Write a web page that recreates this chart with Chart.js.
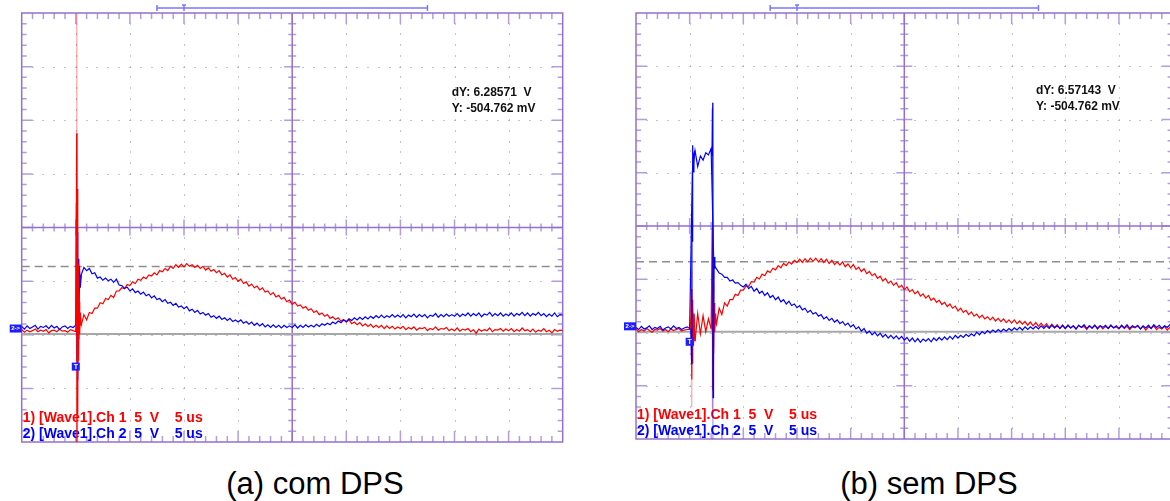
<!DOCTYPE html>
<html>
<head>
<meta charset="utf-8">
<script src="https://cdn.jsdelivr.net/npm/chart.js@4.4.1/dist/chart.umd.min.js"></script>
<style>
  html, body { margin: 0; padding: 0; background: #fff; width: 1170px; height: 501px; overflow: hidden; position: relative; }
  canvas { position: absolute; top: 0; }
  #scopeA { left: 0; }
  #scopeB { left: 600px; }
  .caption { position: absolute; top: 466px; width: 400px; text-align: center; line-height: 36px;
             font-family: "Liberation Sans", Arial, sans-serif; font-size: 31px; color: #000; }
</style>
</head>
<body>
<canvas id="scopeA" width="585" height="450"></canvas>
<canvas id="scopeB" width="600" height="450"></canvas>
<div class="caption" style="left:115px">(a) com DPS</div>
<div class="caption" style="left:729px">(b) sem DPS</div>

<script>
// ======================
// Tela do osciloscópio: 5 V/div, 5 us/div (10 x 8 divisões)
// ======================
const timeMin = -5, timeMax = 45;          // us
const voltMin = -10.58, voltMax = 29.42;   // V (terra a ~2.1 div da base)
const timeStart = -5, timeStep = 0.25;     // amostras das curvas principais

// (a) com DPS — Ch1 (vermelho) e Ch2 (azul), em V
const ch1A = [
  -0.1,-0.35,-0.15,-0.3,-0.2,-0.05,-0.3,-0.15,-0.25,-0.1,-0.4,-0.2,-0.15,-0.3,-0.05,-0.25,-0.2,-0.35,-0.1,-0.2,
  -0.3,1.6,0.3,1.3,0.8,1.5,1.4,1.9,1.9,2.4,2.3,2.8,2.7,3.1,2.9,3.5,3.5,3.8,3.7,4.1,
  4.0,4.35,4.2,4.6,4.5,4.8,4.65,5.0,4.9,5.2,5.0,5.4,5.3,5.6,5.4,5.8,5.6,5.95,5.7,6.0,
  5.75,6.05,5.8,5.95,5.7,5.9,5.6,5.8,5.45,5.65,5.35,5.5,5.2,5.4,5.0,5.15,4.8,5.0,4.6,4.75,
  4.4,4.6,4.2,4.35,3.95,4.15,3.8,3.95,3.6,3.8,3.4,3.5,3.15,3.35,2.95,3.1,2.75,2.9,2.5,2.65,
  2.25,2.45,2.1,2.2,1.9,2.05,1.7,1.85,1.5,1.65,1.3,1.45,1.15,1.3,0.95,1.1,0.85,1.0,0.7,0.85,
  0.6,0.8,0.45,0.6,0.35,0.55,0.25,0.45,0.2,0.4,0.1,0.3,0.1,0.3,0.0,0.25,0.0,0.2,-0.05,0.15,
  0.0,0.2,-0.1,0.1,-0.05,0.15,-0.15,0.05,0.0,0.1,-0.2,0.0,-0.1,0.15,-0.15,0.0,-0.05,0.1,-0.2,-0.05,
  -0.2,0.05,-0.25,-0.05,-0.15,0.0,-0.3,-0.1,-0.45,-0.05,-0.25,-0.1,-0.2,0.05,-0.3,-0.1,-0.15,0.0,-0.25,-0.05,
  -0.2,0.0,-0.3,-0.1,-0.25,0.05,-0.2,-0.1,-0.3,-0.05,-0.35,-0.15,-0.25,0.0,-0.3,-0.15,-0.4,-0.1,-0.25,-0.15,
  -0.2
];
const ch2A = [
  0.2,-0.05,0.25,0.0,0.15,0.3,-0.05,0.2,0.1,0.25,0.0,0.3,0.05,0.2,-0.1,0.15,0.25,0.0,0.2,0.1,
  0.3,3.5,5.0,5.7,5.4,5.6,5.1,5.2,4.7,4.8,4.5,4.7,4.45,4.6,4.3,4.6,4.05,4.0,3.75,3.85,
  3.5,3.7,3.35,3.5,3.2,3.4,3.05,3.2,2.85,3.05,2.7,2.8,2.5,2.7,2.35,2.45,2.15,2.35,2.0,2.1,
  1.85,2.05,1.65,1.8,1.5,1.7,1.35,1.5,1.25,1.4,1.05,1.2,0.95,1.15,0.85,1.0,0.75,0.95,0.65,0.8,
  0.6,0.8,0.5,0.65,0.4,0.6,0.3,0.5,0.25,0.45,0.15,0.35,0.1,0.35,0.1,0.3,0.05,0.3,0.1,0.25,
  0.1,0.35,0.05,0.3,0.1,0.35,0.15,0.3,0.15,0.4,0.2,0.45,0.3,0.5,0.35,0.6,0.45,0.7,0.55,0.8,
  0.65,0.9,0.75,1.0,0.8,1.05,0.85,1.1,0.9,1.15,0.95,1.2,1.0,1.25,1.0,1.2,1.05,1.3,1.05,1.25,
  1.05,1.3,1.0,1.25,1.1,1.35,1.05,1.3,1.1,1.3,1.0,1.25,1.15,1.4,1.05,1.3,1.1,1.35,1.15,1.3,
  1.15,1.4,1.1,1.35,1.2,1.45,1.15,1.4,1.2,1.45,1.1,1.35,1.25,1.5,1.15,1.4,1.2,1.45,1.15,1.35,
  1.2,1.45,1.15,1.4,1.25,1.5,1.2,1.45,1.15,1.4,1.25,1.5,1.2,1.4,1.1,1.35,1.15,1.45,1.1,1.3,
  1.25
];
// picos no disparo: [tempo us, tensão V]
const ch1SpikeA = [[0.0,-0.3],[0.08,18.2],[0.11,-10.6],[0.14,13],[0.18,-8],[0.22,6],[0.26,-3],[0.3,2.5],[0.36,-0.5],[0.42,1.5],[0.5,0.3]];
const ch1GlowA = [[0.09,-10.6],[0.09,29.4]];
const ch2SpikeA = [[0.0,0.3],[0.06,11.7],[0.1,-3],[0.14,9],[0.18,-4.8],[0.23,6.5],[0.28,-1],[0.34,5.8],[0.42,3.8],[0.5,5.0]];

// (b) sem DPS
const ch1B = [
  -0.25,-0.5,-0.3,-0.45,-0.2,-0.4,-0.55,-0.3,-0.35,-0.2,-0.45,-0.3,-0.5,-0.25,-0.4,-0.3,-0.2,-0.45,-0.35,-0.3,
  -0.3,1.5,-1.4,1.2,-0.7,1.0,-0.5,0.7,-0.2,1.5,0.2,1.7,1.1,2.2,1.9,2.5,2.5,3.0,2.9,3.4,
  3.4,3.8,3.75,4.2,4.15,4.6,4.45,4.9,4.75,5.2,5.05,5.45,5.3,5.7,5.5,5.9,5.7,6.05,5.85,6.2,
  6.0,6.3,6.0,6.35,6.05,6.4,6.1,6.4,6.05,6.35,6.0,6.3,5.9,6.2,5.8,6.05,5.75,6.05,5.6,5.85,
  5.5,5.8,5.35,5.55,5.15,5.4,4.95,5.15,4.75,4.95,4.5,4.7,4.25,4.5,4.05,4.25,3.85,4.1,3.65,3.85,
  3.45,3.7,3.25,3.45,3.05,3.3,2.85,3.05,2.65,2.9,2.45,2.65,2.25,2.45,2.05,2.25,1.85,2.1,1.7,1.9,
  1.45,1.7,1.3,1.5,1.1,1.35,0.95,1.15,0.8,1.05,0.7,0.9,0.6,0.85,0.5,0.75,0.45,0.7,0.35,0.6,
  0.3,0.6,0.25,0.5,0.2,0.45,0.1,0.4,0.05,0.35,0.0,0.3,-0.05,0.25,-0.1,0.2,-0.1,0.15,-0.2,0.1,
  -0.2,0.1,-0.15,0.05,-0.25,0.1,-0.1,0.0,-0.3,0.05,-0.2,0.1,-0.15,0.05,-0.25,0.0,-0.2,0.1,-0.15,-0.05,
  -0.25,0.05,-0.2,0.0,-0.3,-0.05,-0.15,0.05,-0.25,0.0,-0.35,-0.05,-0.2,0.05,-0.3,-0.1,-0.25,0.0,-0.35,-0.1,
  -0.2
];
const ch2B = [
  -0.1,-0.3,0.0,-0.25,-0.15,0.05,-0.3,-0.1,-0.2,0.0,-0.35,-0.15,-0.05,-0.25,0.05,-0.2,-0.1,-0.3,-0.15,-0.05,
  -0.2,14.5,16.5,15.0,16.0,15.6,16.3,16.1,16.7,5.8,5.4,5.0,4.9,4.6,4.6,4.25,4.35,4.05,4.1,3.85,
  3.7,3.95,3.55,3.75,3.3,3.55,3.1,3.3,2.9,3.15,2.7,2.9,2.5,2.75,2.3,2.5,2.1,2.35,1.95,2.1,
  1.75,1.95,1.55,1.7,1.3,1.5,1.15,1.3,0.95,1.1,0.7,0.9,0.55,0.75,0.4,0.6,0.25,0.45,0.1,0.3,
  -0.05,0.15,-0.25,-0.05,-0.45,-0.2,-0.65,-0.45,-0.8,-0.55,-0.9,-0.65,-1.0,-0.75,-1.1,-0.85,-1.15,-0.9,-1.2,-0.95,
  -1.3,-1.05,-1.4,-1.1,-1.45,-1.15,-1.5,-1.2,-1.4,-1.15,-1.45,-1.1,-1.35,-1.05,-1.3,-1.0,-1.25,-0.95,-1.2,-0.85,
  -1.1,-0.85,-1.05,-0.75,-0.95,-0.7,-0.9,-0.55,-0.8,-0.5,-0.7,-0.4,-0.6,-0.35,-0.55,-0.3,-0.5,-0.25,-0.45,-0.2,
  -0.4,-0.15,-0.35,-0.1,-0.35,-0.05,-0.3,-0.05,-0.25,0.0,-0.25,0.05,-0.2,0.05,-0.2,0.1,-0.15,0.05,-0.2,0.1,
  -0.2,0.1,-0.15,0.05,-0.25,0.1,-0.1,0.15,-0.2,0.05,-0.15,0.1,-0.25,0.05,-0.1,0.1,-0.2,0.1,-0.15,0.05,
  -0.2,0.1,-0.15,0.15,-0.2,0.05,-0.1,0.1,-0.25,0.05,-0.15,0.1,-0.2,0.15,-0.1,0.1,-0.2,0.05,-0.1,0.15,
  0.0
];
const ch1SpikeB = [[0.1,-0.3],[0.17,3.5],[0.2,-5],[0.23,2.5],[0.27,-3.5],[0.31,1.8],[0.36,-1.8],[0.42,1.2],[0.5,-1.4],[0.6,null],
                   [2.0,-0.2],[2.1,9.2],[2.15,-6],[2.19,4],[2.23,-2.5],[2.28,2.2],[2.34,-0.5],[2.42,1.2],[2.5,0.2]];
const ch1GlowB = [[0.19,5.2],[0.19,-7.6],[0.3,null],[2.13,9.4],[2.13,-7.8]];
const ch2SpikeB = [[0.1,-0.2],[0.18,-3.5],[0.21,10],[0.24,8],[0.28,17.0],[0.33,14.5],[0.4,16.2],[0.5,16.5],[0.6,null],
                   [2.0,16.7],[2.08,16.0],[2.12,20.4],[2.15,21.0],[2.18,-6.7],[2.21,3],[2.24,-4],[2.28,6.5],[2.35,5.4]];
const ch2GlowB = [[2.16,21.0],[2.16,-10.6]];

// textos da tela
const legendLines = ["1) [Wave1].Ch 1  5  V    5 us", "2) [Wave1].Ch 2  5  V    5 us"];
const cursorLevel = -0.504762;
const cursorDeltaA = 6.28571, cursorDeltaB = 6.57143;

// ======================
// Plugin: retícula, cursores e marcadores
// ======================
const scopeScreen = {
  id: 'scopeScreen',
  beforeDatasetsDraw(chart, args, o) {
    const { ctx, chartArea: a, scales: { y } } = chart;
    const dx = (a.right - a.left) / 10;
    const dy = (a.bottom - a.top) / 8;
    const cx = a.left + 5 * dx;
    const cy = a.top + 4 * dy;
    ctx.save();

    // grade pontilhada
    ctx.fillStyle = 'rgba(160,150,190,0.6)';
    for (let i = 1; i < 10; i++) {
      if (i === 5) continue;
      const gx = Math.round(a.left + i * dx);
      for (let k = 1; k < 40; k++) ctx.fillRect(gx, Math.round(a.top + k * dy / 5) - 1, 1, 2);
    }
    for (let j = 1; j < 8; j++) {
      if (j === 4) continue;
      const gy = Math.round(a.top + j * dy);
      for (let k = 1; k < 50; k++) ctx.fillRect(Math.round(a.left + k * dx / 5) - 1, gy, 2, 1);
    }

    // marcas na moldura e nos eixos centrais
    ctx.strokeStyle = '#b39ddf';
    ctx.lineWidth = 1.5;
    ctx.beginPath();
    for (let k = 1; k < 50; k++) {
      const tx = a.left + k * dx / 5;
      const big = k % 5 === 0;
      const len = big ? 11 : 6;
      ctx.moveTo(tx, a.top); ctx.lineTo(tx, a.top + len);
      ctx.moveTo(tx, a.bottom); ctx.lineTo(tx, a.bottom - len);
      const c = big ? 8 : 4;
      ctx.moveTo(tx, cy - c); ctx.lineTo(tx, cy + c);
    }
    for (let k = 1; k < 40; k++) {
      const ty = a.top + k * dy / 5;
      const big = k % 5 === 0;
      const len = big ? 11 : 5;
      ctx.moveTo(a.left, ty); ctx.lineTo(a.left + len, ty);
      ctx.moveTo(a.right, ty); ctx.lineTo(a.right - len, ty);
      const c = big ? 8 : 4;
      ctx.moveTo(cx - c, ty); ctx.lineTo(cx + c, ty);
    }
    ctx.stroke();

    ctx.strokeStyle = '#9470cc';
    ctx.beginPath();
    ctx.moveTo(cx, a.top); ctx.lineTo(cx, a.bottom);
    ctx.moveTo(a.left, cy); ctx.lineTo(a.right, cy);
    ctx.stroke();
    ctx.strokeRect(a.left, a.top, a.right - a.left, a.bottom - a.top);

    // cursores horizontais
    const yBase = y.getPixelForValue(o.cursorLevel);
    const yDash = y.getPixelForValue(o.cursorLevel + o.cursorDelta);
    ctx.strokeStyle = '#a8a8a8';
    ctx.lineWidth = 2;
    ctx.beginPath(); ctx.moveTo(a.left, yBase); ctx.lineTo(a.right, yBase); ctx.stroke();
    ctx.strokeStyle = '#8e8e8e';
    ctx.lineWidth = 1.5;
    ctx.setLineDash([8, 5]);
    ctx.beginPath(); ctx.moveTo(a.left, yDash); ctx.lineTo(a.right, yDash); ctx.stroke();
    ctx.setLineDash([]);

    // legenda dos canais
    ctx.font = 'bold 14px "Liberation Sans", Arial, sans-serif';
    ctx.textBaseline = 'middle';
    ctx.fillStyle = '#ff0000';
    ctx.fillText(legendLines[0], a.left + 1, a.bottom - 23.5);
    ctx.fillStyle = '#0000ff';
    ctx.fillText(legendLines[1], a.left + 1, a.bottom - 7.5);
    ctx.restore();
  },
  afterDatasetsDraw(chart, args, o) {
    const { ctx, chartArea: a, scales: { x, y } } = chart;
    const w = a.right - a.left;
    ctx.save();

    // barra de memória acima da tela
    const b0 = a.left + 0.25 * w, b1 = a.left + 0.75 * w, bt = a.left + 0.3 * w, by = a.top - 5;
    ctx.strokeStyle = '#7878ff';
    ctx.lineWidth = 1.5;
    ctx.beginPath();
    ctx.moveTo(b0, by); ctx.lineTo(b1, by);
    ctx.moveTo(b0, by - 3); ctx.lineTo(b0, by + 3);
    ctx.moveTo(b1, by - 3); ctx.lineTo(b1, by + 3);
    ctx.moveTo(bt - 2, by - 3); ctx.lineTo(bt + 2, by - 3);
    ctx.moveTo(bt, by - 3); ctx.lineTo(bt, by + 3);
    ctx.stroke();

    // marcador de terra do canal 2
    const g = y.getPixelForValue(0);
    ctx.fillStyle = '#1c1cff';
    ctx.fillRect(a.left - 12, g - 4, 12, 8);
    ctx.fillStyle = '#fff';
    ctx.font = 'bold 6px "Liberation Sans", Arial, sans-serif';
    ctx.textBaseline = 'middle';
    ctx.textAlign = 'center';
    ctx.fillText('2->', a.left - 6, g);

    // marcador de trigger
    const tx = x.getPixelForValue(0), ty = y.getPixelForValue(o.triggerLevel);
    ctx.fillStyle = '#1c1cff';
    ctx.fillRect(tx - 4, ty - 4, 8, 8);
    ctx.fillStyle = '#fff';
    ctx.font = 'bold 7px "Liberation Sans", Arial, sans-serif';
    ctx.fillText('T', tx, ty + 0.5);

    // leitura dos cursores
    ctx.fillStyle = '#111';
    ctx.font = 'bold 12px "Liberation Sans", Arial, sans-serif';
    ctx.textAlign = 'left';
    ctx.fillText(o.readout[0], a.left + o.readoutX, a.top + o.readoutY);
    ctx.fillText(o.readout[1], a.left + o.readoutX, a.top + o.readoutY + 15.5);
    ctx.restore();
  }
};

// ======================
// Montagem de cada tela
// ======================
function sampled(values) {
  return values.map((v, i) => ({ x: timeStart + i * timeStep, y: v }));
}
function pairs(list) {
  return list.map(([t, v]) => ({ x: t, y: v }));
}

function buildScope(id, layers, padding, screen) {
  // camadas em ordem de fundo para frente
  const datasets = layers.map((l, i) => ({
    data: l.data,
    borderColor: l.color,
    borderWidth: l.width || 1.2,
    pointRadius: 0,
    tension: 0,
    spanGaps: false,
    order: layers.length - i
  }));
  return new Chart(document.getElementById(id), {
    type: 'line',
    data: { datasets },
    options: {
      responsive: false,
      animation: false,
      events: [],
      layout: { padding },
      scales: {
        x: { type: 'linear', min: timeMin, max: timeMax, display: false },
        y: { type: 'linear', min: voltMin, max: voltMax, display: false }
      },
      plugins: {
        legend: { display: false },
        tooltip: { enabled: false },
        scopeScreen: screen
      }
    },
    plugins: [scopeScreen]
  });
}

const red = '#ff0000', blue = '#0000ff';
const redGlow = 'rgba(255,0,0,0.3)', blueGlow = 'rgba(0,0,255,0.3)';

buildScope('scopeA', [
  { data: sampled(ch1A), color: red },
  { data: sampled(ch2A), color: blue },
  { data: pairs(ch2SpikeA), color: blue },
  { data: pairs(ch1SpikeA), color: red },
  { data: pairs(ch1GlowA), color: redGlow, width: 1.5 }
], { left: 21.7, right: 22.3, top: 13, bottom: 8 }, {
  cursorLevel, cursorDelta: cursorDeltaA, triggerLevel: -3.55,
  readout: ["dY: 6.28571  V", "Y: -504.762 mV"], readoutX: 430, readoutY: 80
});

buildScope('scopeB', [
  { data: sampled(ch1B), color: red },
  { data: sampled(ch2B), color: blue },
  { data: pairs(ch1GlowB), color: redGlow, width: 1.5 },
  { data: pairs(ch1SpikeB), color: red },
  { data: pairs(ch2SpikeB), color: blue },
  { data: pairs(ch2GlowB), color: blueGlow, width: 1.5 }
], { left: 36, right: 27.4, top: 13, bottom: 11 }, {
  cursorLevel, cursorDelta: cursorDeltaB, triggerLevel: -1.45,
  readout: ["dY: 6.57143  V", "Y: -504.762 mV"], readoutX: 400, readoutY: 78
});
</script>
</body>
</html>
